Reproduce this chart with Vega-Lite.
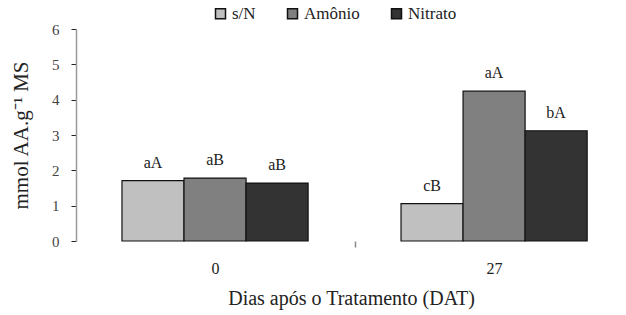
{
  "$schema": "https://vega.github.io/schema/vega-lite/v6.json",
  "autosize": "none",
  "width": 550,
  "height": 212,
  "padding": {"left": 76, "top": 29, "right": 0, "bottom": 74},
  "background": "white",
  "config": {
    "font": "Liberation Serif",
    "view": {"stroke": null}
  },
  "data": {
    "values": [
      {"dat": "0", "trat": "s/N", "valor": 1.71, "letra": "aA"},
      {"dat": "0", "trat": "Amônio", "valor": 1.78, "letra": "aB"},
      {"dat": "0", "trat": "Nitrato", "valor": 1.64, "letra": "aB"},
      {"dat": "27", "trat": "s/N", "valor": 1.06, "letra": "cB"},
      {"dat": "27", "trat": "Amônio", "valor": 4.24, "letra": "aA"},
      {"dat": "27", "trat": "Nitrato", "valor": 3.12, "letra": "bA"}
    ]
  },
  "encoding": {
    "x": {
      "field": "dat",
      "type": "nominal",
      "sort": ["0", "27"],
      "scale": {"paddingInner": 0.333, "paddingOuter": 0.152, "align": 0.542},
      "axis": {
        "title": "Dias após o Tratamento (DAT)",
        "titleFont": "Liberation Serif",
        "labelFont": "Liberation Serif",
        "titleFontSize": 20,
        "titleFontWeight": "normal",
        "titleColor": "#222",
        "titlePadding": 12,
        "labelAngle": 0,
        "labelFontSize": 16,
        "labelColor": "#222",
        "labelPadding": 13,
        "domain": false,
        "ticks": true,
        "tickOffset": 139.5,
        "labelOffset": -139.5,
        "tickSize": 6,
        "tickColor": "#888",
        "tickWidth": 1.5
      }
    },
    "xOffset": {
      "field": "trat",
      "type": "nominal",
      "sort": ["s/N", "Amônio", "Nitrato"],
      "scale": {"paddingInner": 0, "paddingOuter": 0}
    },
    "y": {
      "field": "valor",
      "type": "quantitative",
      "scale": {"domain": [0, 6], "nice": false},
      "axis": {
        "title": "mmol AA.g⁻¹ MS",
        "titleFont": "Liberation Serif",
        "labelFont": "Liberation Serif",
        "titleFontSize": 21,
        "titleFontWeight": "normal",
        "titleColor": "#222",
        "titlePadding": 20,
        "values": [0, 1, 2, 3, 4, 5, 6],
        "labelOverlap": false,
        "grid": false,
        "labelFontSize": 15,
        "labelColor": "#444",
        "labelPadding": 12,
        "domainColor": "#999",
        "domainWidth": 1.5,
        "tickColor": "#222",
        "tickSize": 5
      }
    }
  },
  "layer": [
    {
      "mark": {"type": "bar", "stroke": "#111", "strokeWidth": 1.2},
      "encoding": {
        "color": {
          "field": "trat",
          "type": "nominal",
          "sort": ["s/N", "Amônio", "Nitrato"],
          "scale": {"domain": ["s/N", "Amônio", "Nitrato"], "range": ["#c0c0c0", "#808080", "#333333"]},
          "legend": {
            "title": null,
            "orient": "none",
            "direction": "horizontal",
            "legendX": 136,
            "legendY": -24,
            "symbolType": "square",
            "symbolSize": 100,
            "symbolStrokeColor": "#111",
            "symbolStrokeWidth": 1.5,
            "labelFont": "Liberation Serif",
            "labelFontSize": 17,
            "labelColor": "#222",
            "labelOffset": 3,
            "columnPadding": 28
          }
        }
      }
    },
    {
      "mark": {"type": "text", "baseline": "bottom", "dy": -10, "fontSize": 16, "color": "#222", "font": "Liberation Serif"},
      "encoding": {
        "text": {"field": "letra"}
      }
    }
  ]
}
